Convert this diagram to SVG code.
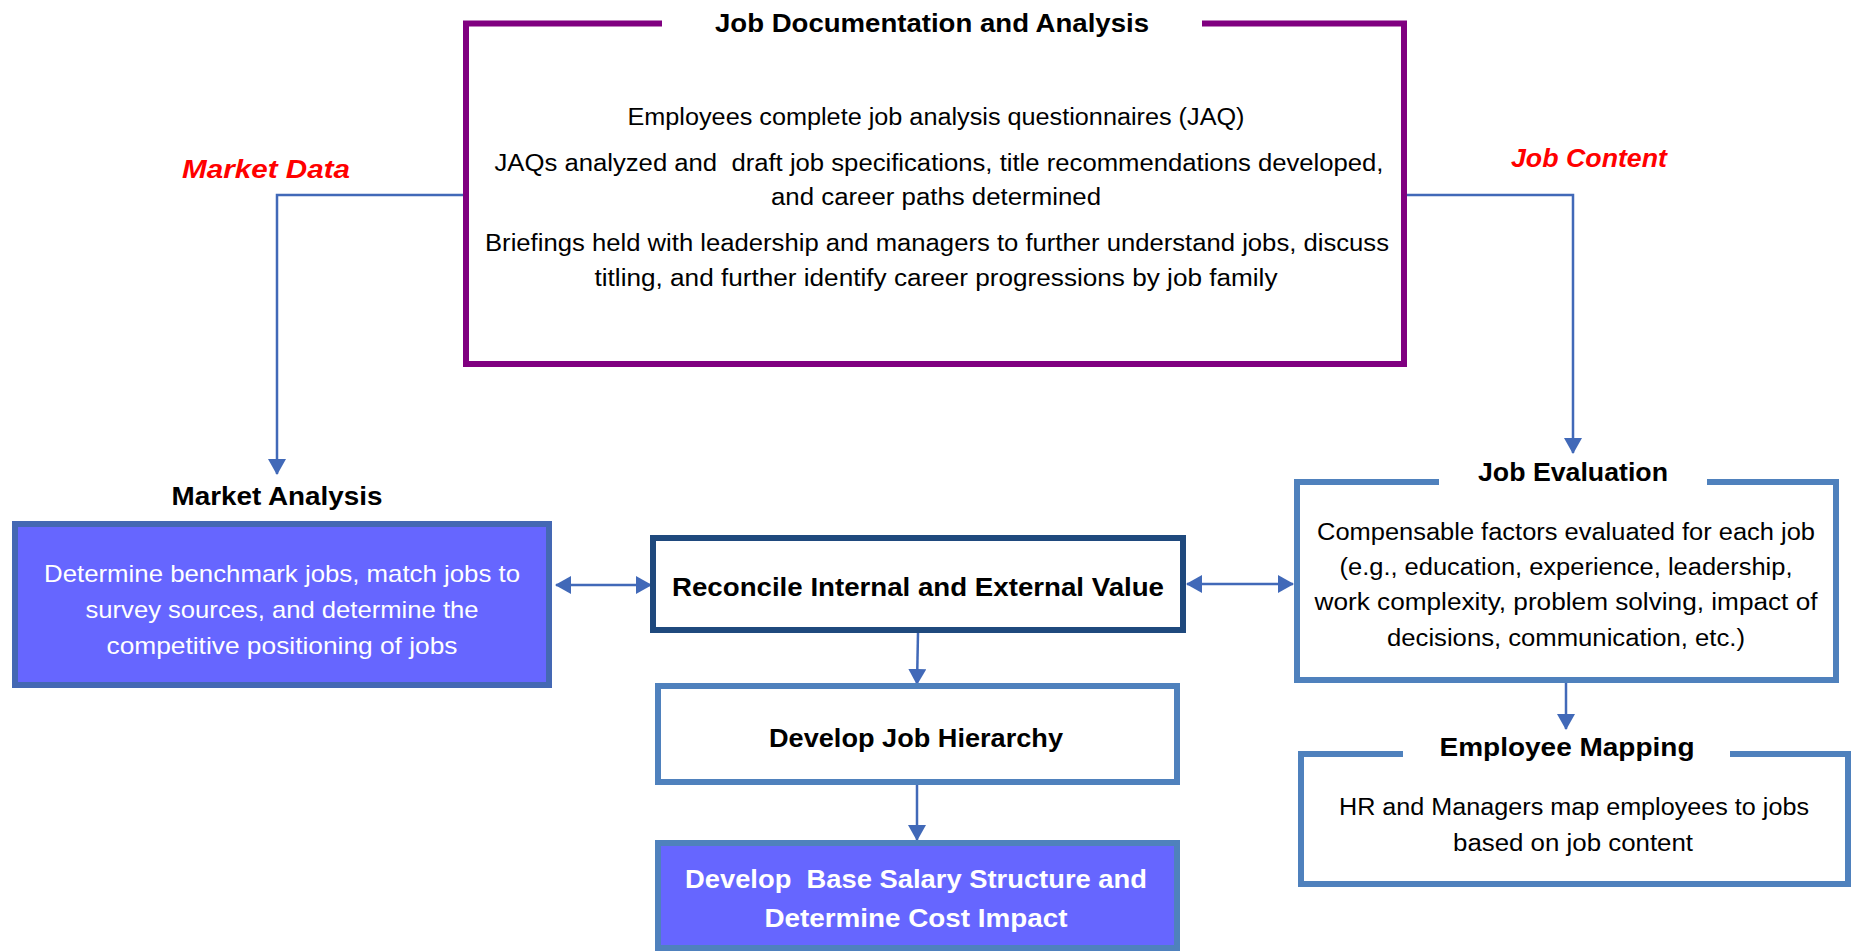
<svg xmlns="http://www.w3.org/2000/svg" width="1854" height="951" viewBox="0 0 1854 951">
  <style>
    text { font-family: "Liberation Sans", Arial, sans-serif; text-anchor: middle; }
    .title { font-weight: bold; font-size: 26px; fill: #000; }
    .body { font-size: 23px; fill: #000; }
    .bodyw { font-size: 24px; fill: #fff; }
    .titlew { font-weight: bold; font-size: 26px; fill: #fff; }
    .flow { font-weight: bold; font-style: italic; font-size: 26px; fill: #ff0000; }
    .conn { fill: none; stroke: #4169B8; stroke-width: 2.5; }
    .frame-purple { fill: none; stroke: #800080; stroke-width: 6; }
    .frame-blue { fill: #fff; stroke: #4F81BD; stroke-width: 6; }
    .open-blue { fill: none; stroke: #4F81BD; stroke-width: 6; }
  </style>
  <defs>
    <marker id="arrow" markerUnits="userSpaceOnUse" markerWidth="16" markerHeight="18" viewBox="0 0 16 18" refX="15" refY="9" orient="auto-start-reverse">
      <path d="M0,0 L16,9 L0,18 z" fill="#4169B8"/>
    </marker>
  </defs>

  <!-- connectors -->
  <g id="connectors">
    <path class="conn" d="M466,195 H277 V474" marker-end="url(#arrow)"/>
    <path class="conn" d="M1404,195 H1573 V453" marker-end="url(#arrow)"/>
    <path class="conn" d="M556,585 H651" marker-start="url(#arrow)" marker-end="url(#arrow)"/>
    <path class="conn" d="M1187,584 H1293" marker-start="url(#arrow)" marker-end="url(#arrow)"/>
    <path class="conn" d="M918,633 L917,684" marker-end="url(#arrow)"/>
    <path class="conn" d="M917,785 V840" marker-end="url(#arrow)"/>
    <path class="conn" d="M1566,683 V729" marker-end="url(#arrow)"/>
  </g>

  <!-- Job Documentation and Analysis -->
  <g id="job-documentation">
    <path class="frame-purple" d="M662,23.5 H466 V364 H1404 V23.5 H1202"/>
    <text class="title" x="932" y="32" textLength="434" lengthAdjust="spacingAndGlyphs">Job Documentation and Analysis</text>
    <text class="body" x="936" y="125" textLength="617" lengthAdjust="spacingAndGlyphs">Employees complete job analysis questionnaires (JAQ)</text>
    <text class="body" x="939" y="171" textLength="889" lengthAdjust="spacingAndGlyphs">JAQs analyzed and &#160;draft job specifications, title recommendations developed,</text>
    <text class="body" x="936" y="205" textLength="330" lengthAdjust="spacingAndGlyphs">and career paths determined</text>
    <text class="body" x="937" y="251" textLength="904" lengthAdjust="spacingAndGlyphs">Briefings held with leadership and managers to further understand jobs, discuss</text>
    <text class="body" x="936" y="286" textLength="683" lengthAdjust="spacingAndGlyphs">titling, and further identify career progressions by job family</text>
  </g>

  <!-- flow labels -->
  <g id="label-market-data">
    <text class="flow" x="266" y="178" textLength="168" lengthAdjust="spacingAndGlyphs">Market Data</text>
  </g>
  <g id="label-job-content">
    <text class="flow" x="1589" y="167" textLength="156" lengthAdjust="spacingAndGlyphs">Job Content</text>
  </g>

  <!-- Market Analysis -->
  <g id="market-analysis">
    <text class="title" x="277" y="505" textLength="211" lengthAdjust="spacingAndGlyphs">Market Analysis</text>
    <rect x="15" y="524" width="534" height="161" fill="#6666FF" stroke="#4468B4" stroke-width="6"/>
    <text class="bodyw" x="282" y="582" textLength="476" lengthAdjust="spacingAndGlyphs">Determine benchmark jobs, match jobs to</text>
    <text class="bodyw" x="282" y="618" textLength="393" lengthAdjust="spacingAndGlyphs">survey sources, and determine the</text>
    <text class="bodyw" x="282" y="654" textLength="351" lengthAdjust="spacingAndGlyphs">competitive positioning of jobs</text>
  </g>

  <!-- Reconcile Internal and External Value -->
  <g id="reconcile">
    <rect x="653" y="538" width="530" height="92" fill="#fff" stroke="#1F497D" stroke-width="6"/>
    <text class="title" x="918" y="596" textLength="492" lengthAdjust="spacingAndGlyphs">Reconcile Internal and External Value</text>
  </g>

  <!-- Develop Job Hierarchy -->
  <g id="job-hierarchy">
    <rect class="frame-blue" x="658" y="686" width="519" height="96"/>
    <text class="title" x="916" y="747" textLength="294" lengthAdjust="spacingAndGlyphs">Develop Job Hierarchy</text>
  </g>

  <!-- Develop Base Salary Structure -->
  <g id="salary-structure">
    <rect x="658" y="843" width="519" height="105" fill="#6666FF" stroke="#4F81BD" stroke-width="6"/>
    <text class="titlew" x="916" y="888" textLength="462" lengthAdjust="spacingAndGlyphs">Develop &#160;Base Salary Structure and</text>
    <text class="titlew" x="916" y="927" textLength="303" lengthAdjust="spacingAndGlyphs">Determine Cost Impact</text>
  </g>

  <!-- Job Evaluation -->
  <g id="job-evaluation">
    <path class="open-blue" d="M1439,482 H1297 V680 H1836 V482 H1707"/>
    <text class="title" x="1573" y="481" textLength="190" lengthAdjust="spacingAndGlyphs">Job Evaluation</text>
    <text class="body" x="1566" y="540" textLength="498" lengthAdjust="spacingAndGlyphs">Compensable factors evaluated for each job</text>
    <text class="body" x="1566" y="575" textLength="453" lengthAdjust="spacingAndGlyphs">(e.g., education, experience, leadership,</text>
    <text class="body" x="1566" y="610" textLength="503" lengthAdjust="spacingAndGlyphs">work complexity, problem solving, impact of</text>
    <text class="body" x="1566" y="646" textLength="358" lengthAdjust="spacingAndGlyphs">decisions, communication, etc.)</text>
  </g>

  <!-- Employee Mapping -->
  <g id="employee-mapping">
    <path class="open-blue" d="M1403,754 H1301 V884 H1848 V754 H1730"/>
    <text class="title" x="1567" y="756" textLength="255" lengthAdjust="spacingAndGlyphs">Employee Mapping</text>
    <text class="body" x="1574" y="815" textLength="470" lengthAdjust="spacingAndGlyphs">HR and Managers map employees to jobs</text>
    <text class="body" x="1573" y="851" textLength="240" lengthAdjust="spacingAndGlyphs">based on job content</text>
  </g>
</svg>
